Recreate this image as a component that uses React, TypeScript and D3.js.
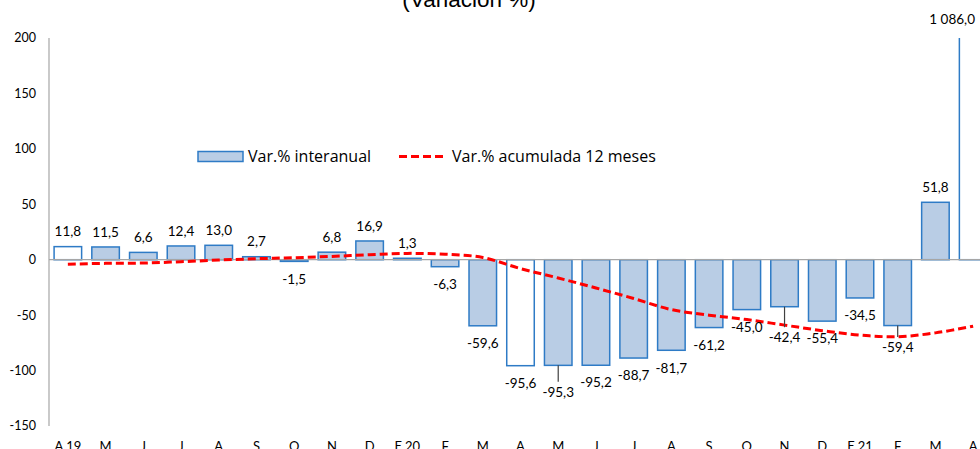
import React from "react";
import * as d3 from "d3";

const months = ["A.19","M","J","J","A","S","O","N","D","E.20","F","M","A","M","J","J","A","S","O","N","D","E.21","F","M","A"];
const interanual = [11.8,11.5,6.6,12.4,13.0,2.7,-1.5,6.8,16.9,1.3,-6.3,-59.6,-95.6,-95.3,-95.2,-88.7,-81.7,-61.2,-45.0,-42.4,-55.4,-34.5,-59.4,51.8,1086.0];
const acumulada = [-4,-3.3,-3,-1.8,-0.3,0.9,1.8,3,4.5,5.7,5,2,-8,-16.5,-25.5,-35,-45,-50,-54,-59,-64,-68,-69.5,-66,-60];
const yTicks = [-150,-100,-50,0,50,100,150,200];
const highlighted = [0,12,24];
const leaderIdx: Record<number, number> = {13: 9, 19: 13, 22: 4};

const W = 980, H = 449;
const FONT = "Lato, 'Open Sans', sans-serif";
const LEG_FONT = "'Open Sans', Lato, sans-serif";

export default function App() {
  const x = d3.scaleBand<number>().domain(months.map((_, i) => i)).range([49, 992]).paddingInner(0.27).paddingOuter(0.135);
  const y = d3.scaleLinear().domain([-150, 200]).range([426, 38]);
  const loc = d3.formatLocale({decimal: ",", thousands: " ", grouping: [3], currency: ["", ""], minus: "-"});
  const fmt = loc.format(",.1f");
  const fmtTick = loc.format("d");
  const bw = x.bandwidth();
  const cx = (i: number) => (x(i) as number) + bw / 2;
  const line = d3.line<number>().x((_, i) => cx(i)).y(d => y(d)).curve(d3.curveCatmullRom.alpha(0.5));

  return (
    <svg width={W} height={H} style={{position: "absolute", left: 0, top: 0}} fontFamily={FONT}>
      <defs>
        <clipPath id="plot"><rect x={49} y={38} width={W} height={388} /></clipPath>
      </defs>
      <text x={469} y={7} textAnchor="middle" fontFamily="'Liberation Sans', Arial, sans-serif" fontSize={22.5} fill="#000">(Variación %)</text>
      {yTicks.map(t => (
        <text key={t} x={36} y={y(t)} dy="0.35em" textAnchor="end" fontSize={12.5} fill="#000">{fmtTick(t)}</text>
      ))}
      <g clipPath="url(#plot)">
        {interanual.map((v, i) => (
          <rect key={i} x={x(i)} y={y(Math.max(0, v))} width={bw} height={Math.abs(y(v) - y(0))}
            fill={highlighted.includes(i) ? "#ffffff" : "#B9CDE5"} stroke="#2E7BC6" strokeWidth={1.5} />
        ))}
      </g>
      <line x1={49} x2={W} y1={y(0)} y2={y(0)} stroke="#A6A6A6" strokeWidth={1.2} />
      <line x1={49} x2={49} y1={38} y2={426} stroke="#A6A6A6" strokeWidth={1.2} />
      <path d={line(acumulada) || ""} fill="none" stroke="#FF0000" strokeWidth={3} strokeDasharray="8 4" />
      {interanual.map((v, i) => {
        const extra = leaderIdx[i] ?? 0;
        const end = v > 200 ? y(200) : y(v);
        const ly = v >= 0 ? end - 15 - (v > 200 ? 4 : 0) : end + 17.5 + extra;
        const lx = v > 200 ? cx(i) - 21 : cx(i);
        return (
          <g key={i}>
            {extra > 0 && <line x1={cx(i)} x2={cx(i)} y1={end} y2={ly - 10} stroke="#404040" strokeWidth={1.2} />}
            <text x={lx} y={ly} dy="0.35em" textAnchor="middle" fontSize={13.5} fill="#000">{fmt(v)}</text>
          </g>
        );
      })}
      {months.map((m, i) => (
        <text key={i} x={cx(i)} y={451} textAnchor="middle" fontSize={13} fill="#000">{m}</text>
      ))}
      <rect x={198} y={151.5} width={45} height={10} fill="#B9CDE5" stroke="#2E7BC6" strokeWidth={1.5} />
      <text x={248} y={156.5} dy="0.35em" fontFamily={LEG_FONT} fontSize={16} fill="#000">Var.% interanual</text>
      <line x1={399} x2={447} y1={156.5} y2={156.5} stroke="#FF0000" strokeWidth={3} strokeDasharray="8 4" />
      <text x={452} y={156.5} dy="0.35em" fontFamily={LEG_FONT} fontSize={16} fill="#000">Var.% acumulada 12 meses</text>
    </svg>
  );
}
